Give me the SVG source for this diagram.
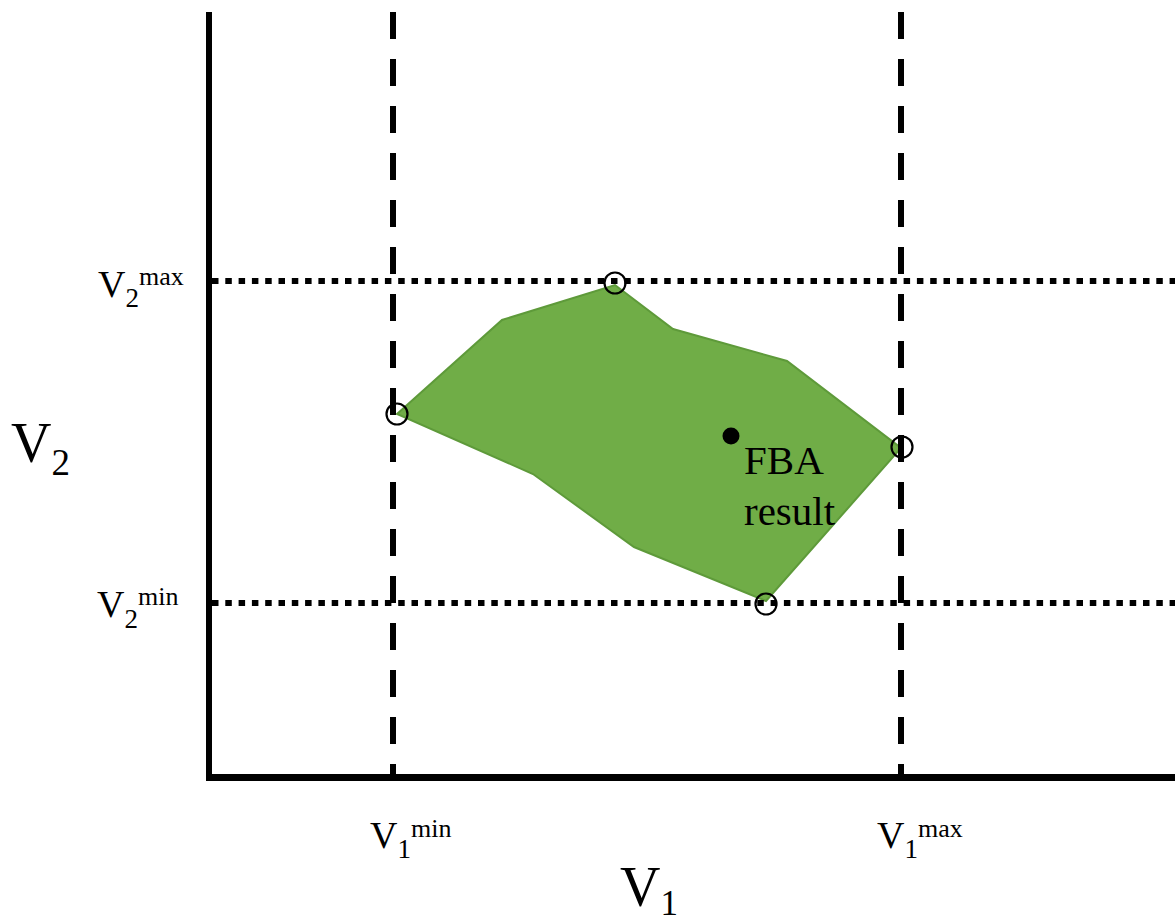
<svg xmlns="http://www.w3.org/2000/svg" width="1175" height="922" viewBox="0 0 1175 922">
<style>
text{font-family:"Liberation Serif","Times New Roman",serif;fill:#000}
.dash{stroke:#000;stroke-width:6;stroke-dasharray:27 20;fill:none}
.dot{stroke:#000;stroke-width:6;stroke-dasharray:6.5 6.8;fill:none}
.pt{fill:none;stroke:#000;stroke-width:2.2}
</style>
<rect width="1175" height="922" fill="#fff"/>
<g id="region">
<polygon points="397,414 502,320 615,285 673,329 787,361 901,448 766,601 634,547 533,474" fill="#70AD47" stroke="#5E9A3A" stroke-width="2"/>
</g>
<g id="connectors">
<line class="dot" x1="212" y1="281" x2="1175" y2="281"/>
<line class="dot" x1="212" y1="603" x2="1175" y2="603"/>
<line class="dash" x1="393" y1="12" x2="393" y2="777"/>
<line class="dash" x1="901" y1="12" x2="901" y2="777"/>
<line x1="209" y1="12" x2="209" y2="781" stroke="#000" stroke-width="6"/>
<line x1="206" y1="777.5" x2="1175" y2="777.5" stroke="#000" stroke-width="7"/>
</g>
<g id="points">
<circle class="pt" cx="397" cy="414" r="10.5"/>
<circle class="pt" cx="615" cy="283" r="10.5"/>
<circle class="pt" cx="902" cy="447" r="10.5"/>
<circle class="pt" cx="766" cy="604" r="10.5"/>
<circle cx="731" cy="436" r="8.5" fill="#000"/>
</g>
<g id="fba-label">
<text x="744" y="474" font-size="41">FBA</text>
<text x="744" y="525" font-size="41">result</text>
</g>
<g id="v2max"><text y="297" font-size="38"><tspan x="98">V</tspan><tspan y="307" font-size="27">2</tspan><tspan y="285" font-size="26">max</tspan></text></g>
<g id="v2min"><text y="617" font-size="38"><tspan x="97">V</tspan><tspan y="628" font-size="27">2</tspan><tspan y="605" font-size="26">min</tspan></text></g>
<g id="v1min"><text y="848" font-size="38"><tspan x="370">V</tspan><tspan y="858" font-size="27">1</tspan><tspan y="837" font-size="26">min</tspan></text></g>
<g id="v1max"><text y="848" font-size="38"><tspan x="877">V</tspan><tspan y="858" font-size="27">1</tspan><tspan y="837" font-size="26">max</tspan></text></g>
<g id="v2axis"><text y="462" font-size="56"><tspan x="11">V</tspan><tspan y="475" font-size="37">2</tspan></text></g>
<g id="v1axis"><text y="906" font-size="56"><tspan x="620">V</tspan><tspan y="915" font-size="35">1</tspan></text></g>
</svg>
